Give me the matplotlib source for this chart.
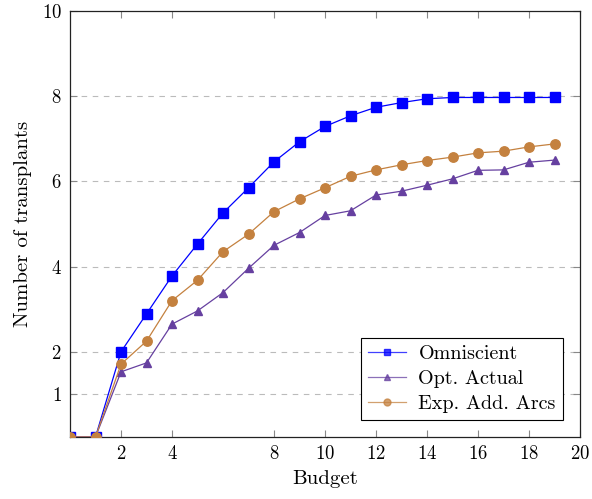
import matplotlib
matplotlib.use("Agg")
import matplotlib.pyplot as plt

budget = list(range(0, 20))
omniscient = [0, 0, 2.00, 2.89, 3.78, 4.53, 5.26, 5.85, 6.46, 6.93, 7.29, 7.54, 7.74, 7.85, 7.94, 7.97, 7.97, 7.97, 7.97, 7.97]
opt_actual = [0, 0, 1.53, 1.74, 2.65, 2.96, 3.39, 3.96, 4.50, 4.80, 5.20, 5.31, 5.68, 5.77, 5.91, 6.06, 6.26, 6.27, 6.45, 6.50]
exp_add_arcs = [0, 0, 1.71, 2.25, 3.20, 3.68, 4.35, 4.76, 5.29, 5.59, 5.85, 6.12, 6.27, 6.39, 6.49, 6.57, 6.67, 6.71, 6.81, 6.88]

x_ticks = [2, 4, 8, 10, 12, 14, 16, 18, 20]
y_ticks = [1, 2, 4, 6, 8, 10]
grid_y = [1, 2, 4, 6, 8]

plt.rcParams['font.family'] = 'cmr10'
plt.rcParams['mathtext.fontset'] = 'cm'
plt.rcParams['axes.formatter.use_mathtext'] = True

fig = plt.figure(figsize=(5.92, 4.99), dpi=100)
ax = fig.add_axes([70/592, 1-437/499, 510/592, 426/499])

for gy in grid_y:
    ax.axhline(gy, color='#bbbbbb', lw=0.8, ls=(0, (5, 5)), zorder=0)

c_blue = '#0000ff'
c_purple = '#6640a0'
c_orange = '#c4813f'

ax.plot(budget, omniscient, color=c_blue, lw=0.9, marker='s', ms=6.5, label='Omniscient', zorder=3)
ax.plot(budget, opt_actual, color=c_purple, lw=0.9, marker='^', ms=6, label='Opt. Actual', zorder=3)
ax.plot(budget, exp_add_arcs, color=c_orange, lw=0.9, marker='o', ms=6.8, label='Exp. Add. Arcs', zorder=3)

ax.set_xlim(0, 20)
ax.set_ylim(0, 10)
ax.set_xticks(x_ticks)
ax.set_yticks(y_ticks)
ax.tick_params(direction='in', length=5, width=0.8, color='#888888', labelsize=13.5,
               top=True, right=True, pad=6)
for s in ax.spines.values():
    s.set_linewidth(0.9)
    s.set_color('#222222')

ax.set_xlabel('Budget', fontsize=15, labelpad=5)
ax.set_ylabel('Number of transplants', fontsize=15, labelpad=7)

leg = ax.legend(loc='lower right', fontsize=14.5, frameon=True, fancybox=False,
                edgecolor='black', framealpha=1, handlelength=1.9,
                borderaxespad=0.85, borderpad=0.35, labelspacing=0.33, handletextpad=0.6)
leg.get_frame().set_linewidth(0.8)
for ln in leg.get_lines():
    ln.set_markersize(5)
    ln.set_alpha(0.75)

fig.savefig('out.png', dpi=100)
